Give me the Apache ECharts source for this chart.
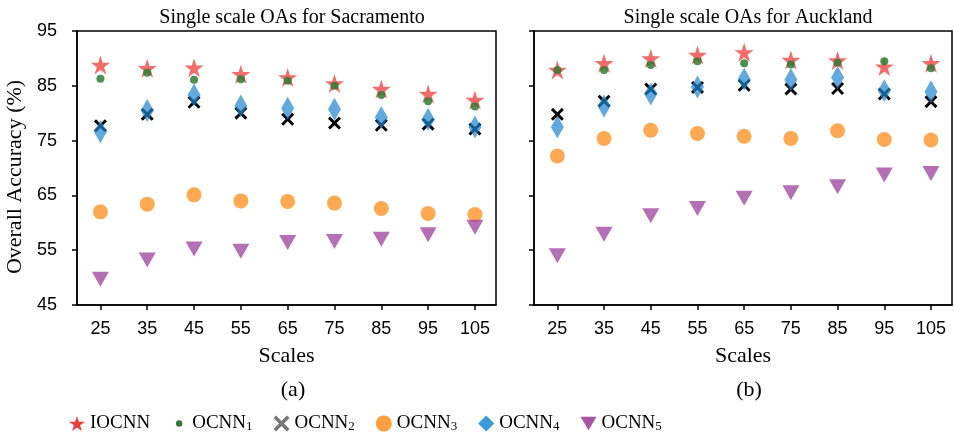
<!DOCTYPE html>
<html><head><meta charset="utf-8">
<script src="https://cdn.jsdelivr.net/npm/echarts@6/dist/echarts.min.js"></script>
<style>html,body{margin:0;padding:0;background:#fff}#c{width:954px;height:433px}</style>
</head><body><div id="c"></div>
<script>
// ---- data ----
const scales = [25, 35, 45, 55, 65, 75, 85, 95, 105];
const yTicks = [45, 55, 65, 75, 85, 95];
const seriesNames = ['IOCNN', 'OCNN1', 'OCNN2', 'OCNN3', 'OCNN4', 'OCNN5'];

// Sacramento
const sacIOCNN = [88.8, 88.2, 88.3, 87.1, 86.5, 85.4, 84.4, 83.5, 82.4];
const sacOCNN1 = [86.3, 87.4, 86.1, 86.2, 85.9, 85.0, 83.3, 82.2, 81.2];
const sacOCNN2 = [77.7, 79.8, 82.0, 80.0, 78.9, 78.2, 77.8, 78.0, 77.1];
const sacOCNN3 = [62.0, 63.4, 65.1, 64.0, 63.9, 63.6, 62.6, 61.7, 61.5];
const sacOCNN4 = [76.6, 80.5, 83.3, 81.3, 80.9, 80.7, 79.2, 78.9, 77.5];
const sacOCNN5 = [49.7, 53.2, 55.2, 54.8, 56.4, 56.6, 57.0, 57.8, 59.2];

// Auckland
const aucIOCNN = [87.9, 89.1, 90.0, 90.6, 91.1, 89.7, 89.6, 88.5, 89.1];
const aucOCNN1 = [87.9, 87.9, 88.8, 89.5, 89.1, 88.9, 89.2, 89.5, 88.2];
const aucOCNN2 = [79.8, 82.2, 84.4, 84.7, 85.1, 84.4, 84.5, 83.5, 82.1];
const aucOCNN3 = [72.2, 75.4, 76.9, 76.3, 75.8, 75.4, 76.8, 75.2, 75.1];
const aucOCNN4 = [77.5, 81.3, 83.5, 84.8, 86.2, 86.1, 86.5, 84.1, 83.9];
const aucOCNN5 = [54.0, 57.9, 61.3, 62.6, 64.5, 65.5, 66.6, 68.7, 69.0];

// ---- styles ----
const SERIF = '"Liberation Serif", "DejaVu Serif", serif';
const SANS = '"Liberation Sans", Arial, sans-serif';

function starPath() {
  let d = '';
  for (let i = 0; i < 10; i++) {
    const r = i % 2 === 0 ? 10 : 3.82;
    const a = -Math.PI / 2 + i * Math.PI / 5;
    const x = (10 + r * Math.cos(a)).toFixed(3), y = (10 + r * Math.sin(a)).toFixed(3);
    d += (i === 0 ? 'M' : 'L') + x + ' ' + y + ' ';
  }
  return 'path://' + d + 'Z';
}
const STAR = starPath();
const XMARK = 'path://M1.6 0 L5 3.4 L8.4 0 L10 1.6 L6.6 5 L10 8.4 L8.4 10 L5 6.6 L1.6 10 L0 8.4 L3.4 5 L0 1.6 Z';
const DOT_LEGEND = 'path://M0 0 L0.001 0 L0.001 0.001 Z M20 20 L20.001 20 L20.001 20.001 Z M6 10 A4 4 0 1 0 14 10 A4 4 0 1 0 6 10 Z';

const styles = {
  IOCNN: {symbol: STAR, size: 19, color: '#ee3b3b', opacity: 0.75},
  OCNN1: {symbol: 'circle', size: 8, color: '#2e7d32', opacity: 0.85},
  OCNN2: {symbol: XMARK, size: 13, color: '#000000', opacity: 1},
  OCNN3: {symbol: 'circle', size: 15, color: '#ff8c1a', opacity: 0.75},
  OCNN4: {symbol: 'diamond', size: [13, 23], color: '#1f86cf', opacity: 0.7},
  OCNN5: {symbol: 'triangle', size: [17, 15], rotate: 180, color: '#9c3f9c', opacity: 0.75}
};

const sacData = [sacIOCNN, sacOCNN1, sacOCNN2, sacOCNN3, sacOCNN4, sacOCNN5];
const aucData = [aucIOCNN, aucOCNN1, aucOCNN2, aucOCNN3, aucOCNN4, aucOCNN5];

function pairs(vals) { return scales.map((s, i) => [s, vals[i]]); }

const series = [];
[sacData, aucData].forEach((set, gi) => {
  set.forEach((vals, si) => {
    const nm = seriesNames[si];
    const st = styles[nm];
    series.push({
      type: 'scatter', name: nm, xAxisIndex: gi, yAxisIndex: gi,
      data: pairs(vals), symbol: st.symbol, symbolSize: st.size,
      symbolRotate: st.rotate || 0,
      itemStyle: {color: st.color, opacity: st.opacity},
      emphasis: {disabled: true}, z: 2 + si
    });
  });
});

const grids = [
  {left: 77, top: 31, width: 419, height: 274},
  {left: 534, top: 31, width: 418, height: 274}
];

function xAxis(gi) {
  return {
    type: 'value', gridIndex: gi, min: 20, max: 109.5,
    name: 'Scales', nameLocation: 'middle', nameGap: 40,
    nameTextStyle: {fontFamily: SERIF, fontSize: 22, color: '#000'},
    axisLine: {show: true, lineStyle: {color: '#000', width: 1.5}},
    axisTick: {show: true, inside: false, length: 5, lineStyle: {color: '#000', width: 1.5}, customValues: scales},
    axisLabel: {fontFamily: SANS, fontSize: 18, color: '#000', margin: 15, customValues: scales},
    splitLine: {show: false}
  };
}
function yAxis(gi) {
  return {
    type: 'value', gridIndex: gi, min: 45, max: 95, interval: 10,
    name: gi === 0 ? 'Overall Accuracy (%)' : '', nameLocation: 'middle', nameGap: 51,
    nameTextStyle: {fontFamily: SERIF, fontSize: 22, color: '#000', padding: [0, 18, 0, 0]},
    axisLine: {show: true, lineStyle: {color: '#000', width: 1.5}},
    axisTick: {show: true, inside: false, length: 5, lineStyle: {color: '#000', width: 1.5}},
    axisLabel: {show: gi === 0, fontFamily: SANS, fontSize: 18, color: '#000', margin: 20},
    splitLine: {show: false}
  };
}

const legendIcons = {IOCNN: STAR, OCNN1: DOT_LEGEND, OCNN2: XMARK, OCNN3: 'circle', OCNN4: 'diamond', OCNN5: 'path://M0 0 L20 0 L10 17 Z'};
const legendColors = {IOCNN: '#ee3b3b', OCNN1: '#2e7d32', OCNN2: '#777777', OCNN3: '#ffa040', OCNN4: '#3a9ad9', OCNN5: '#a855a8'};

const titleStyle = {fontFamily: SERIF, fontSize: 20, fontWeight: 'normal', color: '#000'};
const subStyle = {fontFamily: SERIF, fontSize: 22, fontWeight: 'normal', color: '#000'};

const option = {
  backgroundColor: '#fff',
  animation: false,
  title: [
    {text: 'Single scale OAs for Sacramento', left: 287, top: 3, textAlign: 'center', textStyle: titleStyle},
    {text: 'Single scale OAs for Auckland', left: 743, top: 3, textAlign: 'center', textStyle: titleStyle},
    {text: '(a)', left: 288, top: 374, textAlign: 'center', textStyle: subStyle},
    {text: '(b)', left: 744, top: 374, textAlign: 'center', textStyle: subStyle}
  ],
  grid: grids.map(g => Object.assign({show: true, borderColor: '#000', borderWidth: 1.5, backgroundColor: 'transparent'}, g)),
  xAxis: [xAxis(0), xAxis(1)],
  yAxis: [yAxis(0), yAxis(1)],
  legend: {
    left: 64, top: 409, itemWidth: 16, itemHeight: 16, itemGap: 21,
    selectedMode: false,
    data: seriesNames.map(n => ({name: n, icon: legendIcons[n], itemStyle: {color: legendColors[n], opacity: 1}})),
    formatter: n => n === 'IOCNN' ? '{m|IOCNN}' : '{m|OCNN}{s|' + n.slice(4) + '}',
    textStyle: {
      fontFamily: SERIF, fontSize: 19, color: '#000',
      rich: {
        m: {fontFamily: SERIF, fontSize: 19, color: '#000'},
        s: {fontFamily: SERIF, fontSize: 13, color: '#000', padding: [7, 0, 0, 0]}
      }
    }
  },
  series: series
};

const chart = echarts.init(document.getElementById('c'), null, {renderer: 'canvas'});
chart.setOption(option);
</script>
</body></html>
